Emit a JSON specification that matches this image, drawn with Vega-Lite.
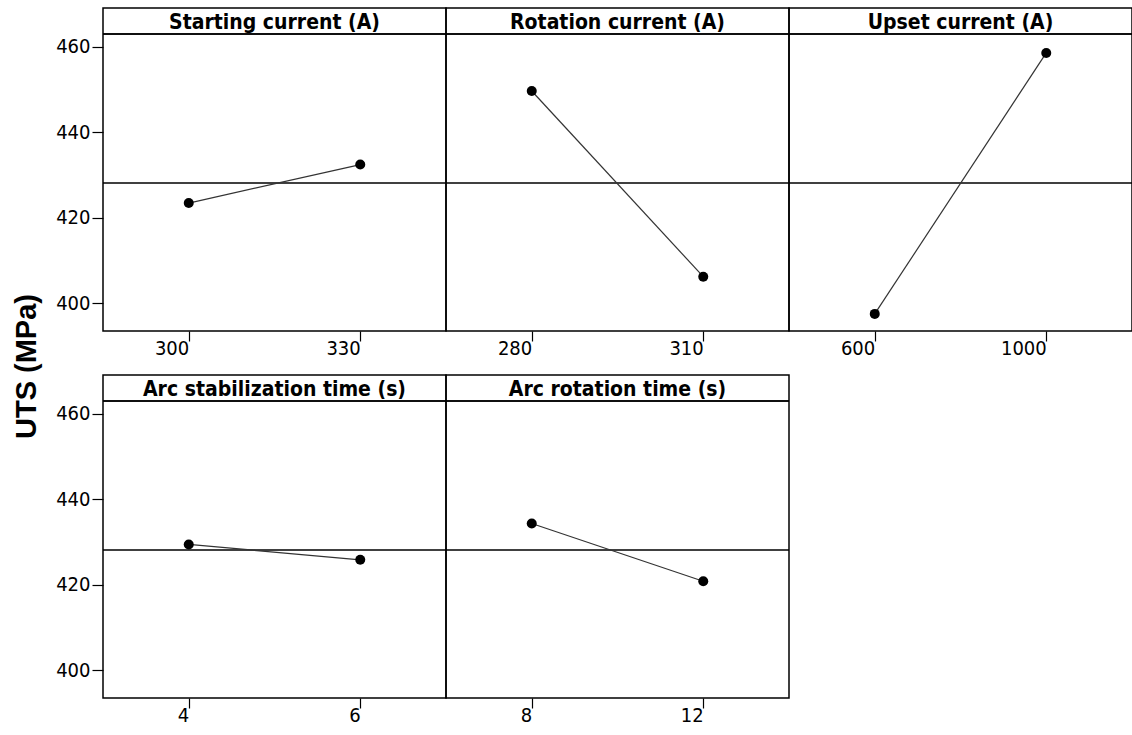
{
  "$schema": "https://vega.github.io/schema/vega-lite/v6.json",
  "padding": {"left": 12, "top": 7, "right": 0, "bottom": 0},
  "background": "white",
  "bounds": "flush",
  "title": {"text": "UTS (MPa)", "orient": "left", "anchor": "middle", "font": "Liberation Sans", "fontSize": 29, "fontWeight": "bold", "color": "black", "offset": 14},
  "data": {"values": [
    {"factor": "Starting current (A)", "level": "300", "uts": 423.4, "grand": 428.1},
    {"factor": "Starting current (A)", "level": "330", "uts": 432.4, "grand": 428.1},
    {"factor": "Rotation current (A)", "level": "280", "uts": 449.6, "grand": 428.1},
    {"factor": "Rotation current (A)", "level": "310", "uts": 406.2, "grand": 428.1},
    {"factor": "Upset current (A)", "level": "600", "uts": 397.5, "grand": 428.1},
    {"factor": "Upset current (A)", "level": "1000", "uts": 458.5, "grand": 428.1},
    {"factor": "Arc stabilization time (s)", "level": "4", "uts": 429.4, "grand": 428.1},
    {"factor": "Arc stabilization time (s)", "level": "6", "uts": 425.8, "grand": 428.1},
    {"factor": "Arc rotation time (s)", "level": "8", "uts": 434.3, "grand": 428.1},
    {"factor": "Arc rotation time (s)", "level": "12", "uts": 420.8, "grand": 428.1}
  ]},
  "facet": {
    "field": "factor",
    "type": "nominal",
    "sort": ["Starting current (A)", "Rotation current (A)", "Upset current (A)", "Arc stabilization time (s)", "Arc rotation time (s)"],
    "header": {"title": null, "labelFont": "DejaVu Sans Condensed, DejaVu Sans", "labelFontSize": 21, "labelFontWeight": "bold", "labelColor": "black", "labelPadding": -36, "labelBaseline": "middle"}
  },
  "columns": 3,
  "spacing": {"row": 44, "column": 0},
  "resolve": {"scale": {"x": "independent"}},
  "spec": {
    "width": 343,
    "height": 323,
    "layer": [
      {
        "mark": {"type": "rule", "color": "black", "strokeWidth": 1.5},
        "encoding": {"y": {"datum": 462.9, "type": "quantitative"}}
      },
      {
        "mark": {"type": "rule", "color": "black", "strokeWidth": 1.5},
        "encoding": {"y": {"field": "grand", "aggregate": "mean", "type": "quantitative"}}
      },
      {
        "mark": {"type": "line", "color": "#333333", "strokeWidth": 1.2},
        "encoding": {
          "x": {"field": "level", "type": "ordinal", "sort": null},
          "y": {"field": "uts", "type": "quantitative"}
        }
      },
      {
        "mark": {"type": "point", "filled": true, "color": "black", "opacity": 1, "size": 100},
        "encoding": {
          "x": {"field": "level", "type": "ordinal", "sort": null,
            "axis": {"title": null, "labelAngle": 0, "domain": false, "grid": false, "tickColor": "black", "tickSize": 10, "tickWidth": 1.2, "labelFont": "DejaVu Sans Condensed, DejaVu Sans", "labelFontSize": 20, "labelColor": "black", "labelPadding": 7}},
          "y": {"field": "uts", "type": "quantitative",
            "scale": {"domain": [393.5, 469], "nice": false, "zero": false},
            "axis": {"title": null, "values": [400, 420, 440, 460], "domain": false, "grid": false, "tickColor": "black", "tickSize": 11, "tickWidth": 1.2, "labelFont": "DejaVu Sans Condensed, DejaVu Sans", "labelFontSize": 20, "labelColor": "black", "labelPadding": 2}}
        }
      }
    ]
  },
  "config": {
    "view": {"stroke": "black", "strokeWidth": 1.5},
    "axis": {"grid": false}
  }
}
